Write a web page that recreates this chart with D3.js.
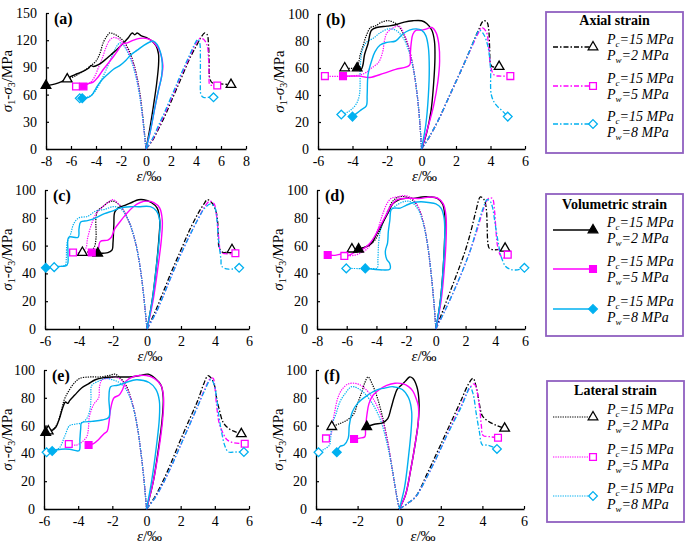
<!DOCTYPE html>
<html><head><meta charset="utf-8">
<script src="https://cdn.jsdelivr.net/npm/d3@7"></script>
<style>body{margin:0;background:#fff} svg{display:block}</style>
</head><body>
<svg id="c" width="685" height="546"></svg>
<script>
// ---------- tick labels ----------
const xTicksA = [-8,-6,-4,-2,0,2,4,6,8];
const yTicksA = [0,30,60,90,120,150];
const xTicksB = [-6,-4,-2,0,2,4,6];
const xTicksD = [-8,-6,-4,-2,0,2,4,6];
const xTicksF = [-4,-2,0,2,4,6];
const yTicks100 = [0,20,40,60,80,100];
const panelNames = ["(a)","(b)","(c)","(d)","(e)","(f)"];
const legendTitles = ["Axial strain","Volumetric strain","Lateral strain"];
const pcValue = "15";
const pwValues = ["2","5","8"];

// ---------- panel (a) ----------
const aAx2 = [[0,0],[0.5,9],[1,22],[1.5,36],[2,52],[2.5,68],[3,84],[3.5,100],[4,113],[4.4,123],[4.7,128],[4.9,126],[5.0,115],[5.05,95],[5.1,78],[5.3,73],[5.8,72],[6.8,71]];
const aAx5 = [[0,0],[0.5,10],[1,24],[1.5,39],[2,55],[2.5,71],[3,87],[3.5,102],[3.9,114],[4.3,122],[4.6,121],[4.9,114],[5.0,100],[5.05,82],[5.1,71],[5.4,70],[5.7,70]];
const aAx8 = [[0,0],[0.5,11],[1,26],[1.5,41],[2,57],[2.5,73],[3,89],[3.5,104],[3.9,116],[4.15,121],[4.3,117],[4.35,100],[4.35,75],[4.4,60],[4.6,57],[5.0,57],[5.4,57]];
const aLat2 = [[0,0],[-0.1,15],[-0.25,35],[-0.45,58],[-0.7,78],[-1.0,95],[-1.4,110],[-1.8,119],[-2.2,124],[-2.6,127],[-2.9,128],[-3.1,125],[-3.4,118],[-3.7,105],[-4.0,97],[-4.5,91],[-5.0,86],[-5.6,81],[-6.3,77]];
const aLat5 = [[0,0],[-0.12,15],[-0.3,38],[-0.5,60],[-0.8,82],[-1.1,97],[-1.5,110],[-1.9,118],[-2.3,122],[-2.6,123],[-2.9,120],[-3.2,112],[-3.5,100],[-3.8,90],[-4.1,80],[-4.4,74],[-4.8,71],[-5.6,69]];
const aLat8 = [[0,0],[-0.12,15],[-0.3,38],[-0.55,62],[-0.85,82],[-1.2,98],[-1.6,110],[-1.9,116],[-2.1,117],[-2.4,112],[-2.8,100],[-3.2,87],[-3.6,75],[-4.0,65],[-4.4,59],[-4.8,57],[-5.3,56]];
const aVol2 = [[0,0],[0.3,22],[0.6,48],[0.85,72],[1.0,92],[1.0,105],[0.8,114],[0.4,120],[0,123],[-0.4,125],[-0.7,128],[-0.9,126],[-1.1,128],[-1.4,123],[-1.8,117],[-2.3,110],[-2.8,104],[-3.3,98],[-3.8,93],[-4.2,91],[-4.4,92],[-4.6,89],[-5.0,86],[-5.5,83],[-6.0,80],[-6.5,76],[-7.0,73],[-7.5,71],[-8,70]];
const aVol5 = [[0,0],[0.35,20],[0.7,45],[1.0,65],[1.25,80],[1.35,92],[1.2,104],[0.9,113],[0.4,120],[0,122],[-0.5,122],[-1.0,120],[-1.5,117],[-1.9,116],[-2.2,110],[-2.6,102],[-3.0,95],[-3.4,88],[-3.8,80],[-4.2,74],[-4.6,72],[-5.0,69]];
const aVol8 = [[0,0],[0.35,20],[0.7,45],[1.0,65],[1.25,80],[1.3,95],[1.15,107],[0.9,115],[0.6,119],[0.3,118],[-0.2,114],[-0.7,109],[-1.2,104],[-1.6,98],[-2.1,92],[-2.6,88],[-3.1,82],[-3.6,75],[-4.0,67],[-4.3,60],[-4.6,57],[-5.1,56]];

// ---------- panel (b) ----------
const bAx2 = [[0,0],[0.5,10],[1,22],[1.5,36],[2,50],[2.5,64],[3,79],[3.3,88],[3.6,95],[3.8,94],[3.9,88],[3.95,75],[4.0,63],[4.1,61],[4.5,61]];
const bAx5 = [[0,0],[0.5,10],[1,22],[1.5,36],[2,50],[2.5,64],[3,78],[3.3,86],[3.5,90],[3.75,87],[3.9,75],[4.0,62],[4.2,55],[4.6,54],[5.15,54]];
const bAx8 = [[0,0],[0.5,10],[1,22],[1.5,36],[2,50],[2.5,64],[2.9,76],[3.2,85],[3.35,88],[3.6,85],[3.85,76],[4.0,60],[4.05,40],[4.3,33],[4.7,28],[5.0,24]];
const bLat2 = [[0,0],[-0.1,20],[-0.25,40],[-0.45,58],[-0.7,73],[-1.0,84],[-1.4,92],[-1.9,95],[-2.3,94],[-2.7,91],[-2.95,90],[-3.2,84],[-3.4,76],[-3.55,70],[-3.7,62],[-3.9,60],[-4.45,60]];
const bLat5 = [[0,0],[-0.1,20],[-0.25,40],[-0.45,58],[-0.7,74],[-1.0,85],[-1.3,91],[-1.6,90],[-2.0,86],[-2.15,80],[-2.25,72],[-2.5,64],[-2.9,60],[-3.3,56],[-4.0,54],[-5.6,54]];
const bLat8 = [[0,0],[-0.1,20],[-0.25,40],[-0.45,58],[-0.75,73],[-1.1,83],[-1.5,88],[-1.9,89],[-2.4,86],[-2.8,82],[-3.2,79],[-3.45,72],[-3.55,60],[-3.6,40],[-3.8,33],[-4.2,28],[-4.65,25.5]];
const bVol2 = [[0,0],[0.3,12],[0.55,28],[0.7,48],[0.78,68],[0.75,80],[0.6,88],[0.3,93],[0,95],[-0.5,95],[-1.0,94],[-1.5,92],[-2.0,91],[-2.6,90],[-2.9,88],[-3.1,78],[-3.3,70],[-3.4,62],[-3.5,59],[-3.73,60]];
const bVol5 = [[0,0],[0.35,15],[0.7,32],[0.95,50],[1.05,65],[1.0,78],[0.85,86],[0.6,90],[0.3,89],[0,88],[-0.3,88],[-0.5,85],[-0.6,78],[-0.65,70],[-0.7,62],[-1.5,59],[-2.2,56],[-3.0,53],[-3.6,54],[-4.55,54]];
const bVol8 = [[0,0],[0.25,18],[0.4,40],[0.45,60],[0.4,75],[0.25,84],[0,88],[-0.3,89],[-0.7,88],[-1.1,85],[-1.5,80],[-2.0,79],[-2.4,77],[-2.7,72],[-2.9,65],[-3.1,55],[-3.15,40],[-3.2,32],[-3.5,29],[-3.8,26],[-4.0,24]];

// ---------- panel (c) ----------
const cAx2 = [[0,0],[0.5,13],[1,28],[1.5,43],[2,57],[2.5,71],[3,83],[3.35,90],[3.55,93],[3.8,91],[4.05,85],[4.15,78],[4.2,65],[4.25,58],[4.5,55],[4.8,56],[5.0,57]];
const cAx5 = [[0,0],[0.5,11],[1,25],[1.5,40],[2,54],[2.5,67],[3,79],[3.4,88],[3.7,92],[3.95,90],[4.05,85],[4.15,75],[4.25,62],[4.35,55],[4.8,54],[5.2,54.5]];
const cAx8 = [[0,0],[0.5,11],[1,25],[1.5,40],[2,54],[2.5,67],[3,79],[3.4,87],[3.75,90],[4.0,87],[4.1,80],[4.2,65],[4.35,50],[4.4,45],[4.8,43],[5.42,44]];
const cLat2 = [[0,0],[-0.12,15],[-0.3,35],[-0.55,55],[-0.85,70],[-1.2,81],[-1.6,89],[-2.0,92],[-2.3,91],[-2.6,88],[-2.9,85],[-3.0,80],[-3.0,65],[-3.1,59],[-3.3,56],[-3.8,55]];
const cLat5 = [[0,0],[-0.12,15],[-0.3,35],[-0.55,55],[-0.85,70],[-1.2,81],[-1.6,89],[-2.0,93],[-2.3,91],[-2.7,87],[-3.0,83],[-3.3,74],[-3.5,65],[-3.6,58],[-3.9,55],[-4.35,55]];
const cLat8 = [[0,0],[-0.12,15],[-0.3,35],[-0.55,55],[-0.85,70],[-1.2,81],[-1.6,87],[-2.0,88],[-2.5,86],[-3.0,85],[-3.5,81],[-4.0,80],[-4.3,76],[-4.5,68],[-4.7,62],[-4.75,50],[-4.8,46],[-5.1,45],[-5.46,44.5]];
const cVol2 = [[0,0],[0.3,20],[0.55,45],[0.7,65],[0.75,78],[0.6,87],[0.25,91],[-0.2,93],[-0.5,93],[-0.9,91],[-1.3,89],[-1.7,87],[-1.9,84],[-1.95,75],[-2.0,62],[-2.05,57],[-2.3,55],[-2.9,54.5]];
const cVol5 = [[0,0],[0.35,20],[0.65,45],[0.85,65],[0.9,78],[0.75,87],[0.4,91],[0,92],[-0.4,91],[-0.8,88],[-1.2,83],[-1.6,77],[-1.9,72],[-2.1,66],[-2.3,64],[-2.75,63],[-2.85,58],[-2.9,55],[-3.25,55]];
const cVol8 = [[0,0],[0.3,20],[0.55,45],[0.72,65],[0.75,78],[0.55,85],[0.2,88],[-0.5,88],[-1.0,88],[-1.6,87],[-2.0,85],[-2.5,83],[-3.0,80],[-3.5,78],[-3.9,77],[-4.0,72],[-4.05,66],[-4.6,66],[-4.65,55],[-4.7,46],[-5.3,45],[-5.95,44]];

// ---------- panel (d) ----------
const dAx2 = [[0,0],[0.5,14],[1,28],[1.5,42],[2,57],[2.4,72],[2.7,85],[3.0,95],[3.25,93],[3.4,86],[3.45,75],[3.5,62],[3.6,58],[4.0,57],[4.66,58]];
const dAx5 = [[0,0],[0.6,13],[1.2,27],[1.8,42],[2.3,56],[2.8,72],[3.2,86],[3.55,94],[3.8,94],[3.95,85],[4.05,70],[4.15,60],[4.35,53],[4.6,51],[4.84,53.5]];
const dAx8 = [[0,0],[0.6,13],[1.2,27],[1.8,42],[2.3,56],[2.75,72],[3.15,86],[3.45,93],[3.65,92],[3.8,88],[4.0,75],[4.2,62],[4.4,52],[4.7,45],[5.0,43],[5.5,42.5],[5.96,44]];
const dLat2 = [[0,0],[-0.1,15],[-0.3,38],[-0.55,60],[-0.85,77],[-1.2,88],[-1.6,93],[-2.0,95],[-2.5,95],[-2.9,92],[-3.2,86],[-3.5,78],[-3.8,70],[-4.1,64],[-4.4,61],[-4.8,59],[-5.2,58],[-5.65,57.4]];
const dLat5 = [[0,0],[-0.1,15],[-0.3,38],[-0.55,60],[-0.85,77],[-1.2,88],[-1.6,94],[-2.1,96],[-2.6,95],[-3.0,94],[-3.3,90],[-3.6,82],[-3.9,72],[-4.2,64],[-4.6,58],[-5.0,55],[-5.5,53],[-6.16,52.6]];
const dLat8 = [[0,0],[-0.1,15],[-0.3,38],[-0.55,60],[-0.85,76],[-1.2,86],[-1.6,91],[-2.0,92],[-2.5,90],[-3.0,86],[-3.4,80],[-3.7,72],[-3.85,62],[-3.9,50],[-3.95,44],[-4.5,43.5],[-5.2,43.5],[-6.03,43.6]];
const dVol2 = [[0,0],[0.3,20],[0.5,45],[0.6,68],[0.6,82],[0.45,90],[0.1,94],[-0.4,95],[-0.9,95],[-1.5,94],[-2.0,94],[-2.5,93],[-2.9,90],[-3.2,84],[-3.6,76],[-4.0,68],[-4.3,62],[-4.7,59],[-5.2,57.4]];
const dVol5 = [[0,0],[0.35,20],[0.58,45],[0.7,68],[0.68,82],[0.5,90],[0.15,94],[-0.4,95],[-1.0,94],[-1.6,94],[-2.1,94],[-2.6,93],[-3.0,89],[-3.3,83],[-3.7,75],[-4.1,67],[-4.5,61],[-5.0,57],[-5.5,55],[-5.9,53],[-6.3,54],[-6.8,53],[-7.28,53.2]];
const dVol8 = [[0,0],[0.3,20],[0.5,45],[0.6,68],[0.55,80],[0.35,87],[0,90],[-0.5,91],[-1.0,91.5],[-1.5,91],[-2.0,89],[-2.4,87],[-2.8,87],[-3.0,86],[-3.1,78],[-3.2,70],[-3.25,62],[-3.4,56],[-3.3,50],[-3.1,47],[-3.1,43],[-3.6,42.5],[-4.2,43],[-4.75,43.6]];

// ---------- panel (e) ----------
const eAx2 = [[0,0],[0.5,9],[1,21],[1.5,35],[2,50],[2.5,64],[3,78],[3.35,90],[3.6,96],[3.8,94],[4.0,88],[4.1,80],[4.25,72],[4.5,62],[4.8,58],[5.1,56],[5.55,54]];
const eAx5 = [[0,0],[0.5,8],[1,19],[1.5,32],[2,46],[2.5,60],[3,74],[3.4,86],[3.75,94],[3.9,94],[4.0,88],[4.1,75],[4.25,62],[4.5,54],[4.7,50],[5.0,48],[5.75,47]];
const eAx8 = [[0,0],[0.5,8],[1,19],[1.5,32],[2,46],[2.5,60],[3,74],[3.4,85],[3.75,93],[3.95,90],[4.1,80],[4.25,66],[4.4,55],[4.6,45],[4.8,41],[5.2,41],[5.7,41]];
const eLat2 = [[0,0],[-0.1,15],[-0.3,38],[-0.55,60],[-0.85,77],[-1.2,89],[-1.6,95],[-1.85,97],[-2.2,96],[-2.7,95],[-3.3,95],[-3.9,94],[-4.2,91],[-4.5,86],[-4.8,79],[-5.0,70],[-5.2,62],[-5.4,58],[-5.75,56]];
const eLat5 = [[0,0],[-0.1,15],[-0.3,38],[-0.55,60],[-0.85,77],[-1.2,88],[-1.5,93],[-1.85,95],[-2.2,94],[-2.6,93],[-2.75,88],[-2.8,80],[-3.1,75],[-3.35,66],[-3.4,58],[-3.5,52],[-3.8,48],[-4.1,46],[-4.55,46.8]];
const eLat8 = [[0,0],[-0.1,15],[-0.3,38],[-0.55,60],[-0.85,76],[-1.2,86],[-1.6,91],[-2.0,93],[-2.4,94],[-2.8,92],[-3.2,89],[-3.25,80],[-3.3,72],[-3.5,65],[-3.8,62],[-4.2,61],[-4.5,60],[-4.8,52],[-5.1,44],[-5.5,42],[-5.85,40.8]];
const eVol2 = [[0,0],[0.4,20],[0.72,45],[0.92,65],[0.98,80],[0.85,89],[0.5,94],[0.1,97],[-0.4,96],[-1.0,95],[-1.5,95],[-2.0,95],[-2.5,94.5],[-3.0,93],[-3.4,90],[-3.8,87],[-4.2,82],[-4.5,78],[-4.6,76],[-4.75,77],[-4.9,73],[-5.1,65],[-5.3,59],[-5.6,56],[-5.9,55]];
const eVol5 = [[0,0],[0.4,20],[0.75,45],[0.95,65],[1.0,80],[0.85,89],[0.45,94],[0,96],[-0.4,96],[-0.8,95],[-1.2,92],[-1.4,86],[-1.6,82],[-1.9,80],[-2.1,72],[-2.2,62],[-2.3,56],[-2.5,54],[-2.8,50],[-3.1,47],[-3.39,46]];
const eVol8 = [[0,0],[0.3,20],[0.58,45],[0.75,65],[0.75,78],[0.55,86],[0.15,91],[-0.6,93],[-1.2,91],[-1.7,89],[-2.1,88],[-2.2,80],[-2.2,66],[-2.6,64],[-3.2,63],[-3.8,62],[-3.85,58],[-3.9,50],[-3.95,42],[-4.5,43],[-5.0,43],[-5.52,41.7]];

// ---------- panel (f) ----------
const fAx2 = [[0,0],[0.4,4],[0.8,9],[1.3,24],[1.8,40],[2.2,53],[2.6,66],[3.0,79],[3.3,89],[3.55,94],[3.7,88],[3.85,76],[4.0,67],[4.3,63],[4.7,60],[5.07,58]];
const fAx5 = [[0,0],[0.4,4],[0.8,9],[1.3,22],[1.8,37],[2.2,50],[2.6,63],[3.0,75],[3.35,86],[3.6,90],[3.75,84],[3.87,72],[3.95,60],[4.03,53],[4.35,52],[4.75,51.3]];
const fAx8 = [[0,0],[0.4,4],[0.8,9],[1.3,22],[1.8,37],[2.2,50],[2.6,62],[3.0,74],[3.25,83],[3.4,88],[3.55,83],[3.7,69],[3.85,56],[4.0,46],[4.25,46],[4.7,43.2]];
const fLat2 = [[0,0],[-0.15,12],[-0.35,30],[-0.55,48],[-0.8,66],[-1.05,80],[-1.3,90],[-1.5,95],[-1.65,91],[-1.8,84],[-2.0,76],[-2.2,68],[-2.5,64],[-2.85,61.5],[-3.24,59.2]];
const fLat5 = [[0,0],[-0.15,12],[-0.35,30],[-0.55,48],[-0.85,66],[-1.2,78],[-1.6,86],[-2.0,90],[-2.45,90],[-2.75,86],[-2.95,80],[-3.1,70],[-3.2,62],[-3.3,53],[-3.52,50.8]];
const fLat8 = [[0,0],[-0.15,12],[-0.35,30],[-0.6,48],[-0.9,64],[-1.3,76],[-1.8,85],[-2.28,88],[-2.6,83],[-2.85,77],[-3.05,68],[-3.24,60],[-3.3,50],[-3.35,46],[-3.6,43],[-3.88,40.8]];
const fVol2 = [[0,0],[0.3,10],[0.55,28],[0.78,48],[0.92,63],[0.95,78],[0.85,88],[0.65,94],[0.5,95],[0.3,92],[0.1,89],[-0.1,86],[-0.25,80],[-0.4,72],[-0.55,65],[-0.8,62],[-1.2,61],[-1.56,59.2]];
const fVol5 = [[0,0],[0.3,10],[0.55,28],[0.78,48],[0.92,63],[0.92,74],[0.8,80],[0.65,85],[0.45,88],[0.2,90],[-0.2,90.5],[-0.6,89],[-0.95,86],[-1.25,82],[-1.45,76],[-1.55,68],[-1.62,58],[-1.65,52],[-1.9,51],[-2.17,50.4]];
const fVol8 = [[0,0],[0.25,15],[0.45,38],[0.58,58],[0.6,70],[0.45,80],[0.15,86],[-0.3,88],[-0.7,87],[-1.1,85.5],[-1.6,81],[-2.0,76],[-2.25,70],[-2.4,60],[-2.45,51],[-2.65,46],[-2.85,45],[-3.0,40.8]];

// ---------- styling / layout ----------
const FONT = "'Liberation Serif','Times New Roman',serif";
const COLORS = ["#000000","#ff00ff","#00b0f0"];
const squareDiamond = {
  draw(ctx, size) {
    const r = Math.sqrt(size / 2);
    ctx.moveTo(0, -r); ctx.lineTo(r, 0); ctx.lineTo(0, r); ctx.lineTo(-r, 0); ctx.closePath();
  }
};
const SYMS = [d3.symbolTriangle, d3.symbolSquare, squareDiamond];
const SYMSIZE = [40, 46, 38];
const STYLE = {
  ax:  {dash:"5,2,1.5,2", w:1.3, open:true},
  lat: {dash:"1.3,1.1",   w:1.2, open:true},
  vol: {dash:null,        w:1.4, open:false}
};

const panels = [
  {xd:[-8,8], xr:[46,246],   yd:[0,150], yr:[149,13],  xt:xTicksA, yt:yTicksA,   ylx:12,
   ax:[aAx2,aAx5,aAx8], lat:[aLat2,aLat5,aLat8], vol:[aVol2,aVol5,aVol8]},
  {xd:[-6,6], xr:[318,525],  yd:[0,100], yr:[149,14],  xt:xTicksB, yt:yTicks100, ylx:284,
   ax:[bAx2,bAx5,bAx8], lat:[bLat2,bLat5,bLat8], vol:[bVol2,bVol5,bVol8]},
  {xd:[-6,6], xr:[45,249],   yd:[0,100], yr:[329,190], xt:xTicksB, yt:yTicks100, ylx:12,
   ax:[cAx2,cAx5,cAx8], lat:[cLat2,cLat5,cLat8], vol:[cVol2,cVol5,cVol8]},
  {xd:[-8,6], xr:[317,525],  yd:[0,100], yr:[329,190], xt:xTicksD, yt:yTicks100, ylx:283,
   ax:[dAx2,dAx5,dAx8], lat:[dLat2,dLat5,dLat8], vol:[dVol2,dVol5,dVol8]},
  {xd:[-6,6], xr:[44,249],   yd:[0,100], yr:[509,370], xt:xTicksB, yt:yTicks100, ylx:12,
   ax:[eAx2,eAx5,eAx8], lat:[eLat2,eLat5,eLat8], vol:[eVol2,eVol5,eVol8]},
  {xd:[-4,6], xr:[316,524],  yd:[0,100], yr:[509,370], xt:xTicksF, yt:yTicks100, ylx:283,
   ax:[fAx2,fAx5,fAx8], lat:[fLat2,fLat5,fLat8], vol:[fVol2,fVol5,fVol8]}
];

const svg = d3.select("#c");
svg.append("rect").attr("width",685).attr("height",546).attr("fill","#fff");

function marker(g, sx, sy, pt, i, open) {
  g.append("path")
    .attr("d", d3.symbol().type(SYMS[i]).size(SYMSIZE[i])())
    .attr("transform", `translate(${sx(pt[0])},${sy(pt[1])})`)
    .attr("fill", open ? "#fff" : COLORS[i])
    .attr("stroke", COLORS[i])
    .attr("stroke-width", 1.3);
}

panels.forEach((p, k) => {
  const x = d3.scaleLinear().domain(p.xd).range(p.xr);
  const y = d3.scaleLinear().domain(p.yd).range(p.yr);
  const g = svg.append("g");

  // axes
  const xa = g.append("g").attr("transform", `translate(0,${p.yr[0]})`)
    .call(d3.axisBottom(x).tickValues(p.xt).tickSizeInner(-3).tickSizeOuter(0)
      .tickPadding(7).tickFormat(d => String(d)));
  const ya = g.append("g").attr("transform", `translate(${p.xr[0]},0)`)
    .call(d3.axisLeft(y).tickValues(p.yt).tickSizeInner(-3).tickSizeOuter(0)
      .tickPadding(9).tickFormat(d => String(d)));
  [xa, ya].forEach(a => {
    a.selectAll("path.domain").attr("stroke","#000").attr("stroke-width",1.3);
    a.selectAll("line").attr("stroke","#000").attr("stroke-width",1.2);
    a.selectAll("text").attr("font-family",FONT).attr("font-size",14).attr("fill","#000");
  });

  // curves
  const line = d3.line().x(d => x(d[0])).y(d => y(d[1])).curve(d3.curveCatmullRom.alpha(0.5));
  ["lat","ax","vol"].forEach(key => {
    p[key].forEach((s, i) => {
      g.append("path").datum(s).attr("d", line)
        .attr("fill","none").attr("stroke",COLORS[i])
        .attr("stroke-width",STYLE[key].w)
        .attr("stroke-dasharray",STYLE[key].dash)
        .attr("stroke-linejoin","round");
    });
  });
  ["lat","ax","vol"].forEach(key => {
    p[key].forEach((s, i) => marker(g, x, y, s[s.length-1], i, STYLE[key].open));
  });

  // panel label
  g.append("text").attr("x", p.xr[0] + 8).attr("y", p.yr[1] + 11)
    .attr("font-family",FONT).attr("font-weight","bold").attr("font-size",16)
    .text(panelNames[k]);

  // x label
  const xl = g.append("text").attr("x", (p.xr[0]+p.xr[1])/2 + 3).attr("y", p.yr[0] + 32)
    .attr("font-family",FONT).attr("font-size",15).attr("text-anchor","middle");
  xl.append("tspan").attr("font-style","italic").text("ε");
  xl.append("tspan").text("/‰");

  // y label
  const yc = (p.yr[0]+p.yr[1])/2;
  const yl = g.append("text").attr("transform", `translate(${p.ylx},${yc}) rotate(-90)`)
    .attr("font-family",FONT).attr("font-size",15).attr("text-anchor","middle");
  yl.append("tspan").attr("font-style","italic").text("σ");
  yl.append("tspan").attr("font-size",10).attr("dy",3).text("1");
  yl.append("tspan").attr("dy",-3).text("-");
  yl.append("tspan").attr("font-style","italic").text("σ");
  yl.append("tspan").attr("font-size",10).attr("dy",3).text("3");
  yl.append("tspan").attr("dy",-3).text("/MPa");
});

// ---------- legends ----------
const legends = [
  {box:[546,12,137,141],  ty:25,  rows:[47,86,124],  key:"ax"},
  {box:[546,194,137,142], ty:209, rows:[230,269,309], key:"vol"},
  {box:[547,381,137,141], ty:395, rows:[417,457,496], key:"lat"}
];
legends.forEach((L, j) => {
  const g = svg.append("g");
  g.append("rect").attr("x",L.box[0]).attr("y",L.box[1]).attr("width",L.box[2]).attr("height",L.box[3])
    .attr("fill","#fff").attr("stroke","#9060c0").attr("stroke-width",1.8);
  g.append("text").attr("x", L.box[0] + L.box[2]/2).attr("y", L.ty)
    .attr("text-anchor","middle").attr("font-family",FONT).attr("font-weight","bold").attr("font-size",14)
    .text(legendTitles[j]);
  const st = STYLE[L.key];
  L.rows.forEach((ry, i) => {
    g.append("line").attr("x1",553).attr("x2",590).attr("y1",ry).attr("y2",ry)
      .attr("stroke",COLORS[i]).attr("stroke-width",st.w).attr("stroke-dasharray",st.dash);
    g.append("path").attr("d", d3.symbol().type(SYMS[i]).size(SYMSIZE[i])())
      .attr("transform",`translate(593,${ry})`)
      .attr("fill", st.open ? "#fff" : COLORS[i]).attr("stroke",COLORS[i]).attr("stroke-width",1.3);
    const t1 = g.append("text").attr("x",607).attr("y",ry-3).attr("font-family",FONT)
      .attr("font-style","italic").attr("font-size",14);
    t1.append("tspan").text("P");
    t1.append("tspan").attr("font-size",9).attr("dy",3).text("c");
    t1.append("tspan").attr("dy",-3).text("=" + pcValue + " MPa");
    const t2 = g.append("text").attr("x",607).attr("y",ry+13).attr("font-family",FONT)
      .attr("font-style","italic").attr("font-size",14);
    t2.append("tspan").text("P");
    t2.append("tspan").attr("font-size",9).attr("dy",3).text("w");
    t2.append("tspan").attr("dy",-3).text("=" + pwValues[i] + " MPa");
  });
});
</script>
</body></html>
